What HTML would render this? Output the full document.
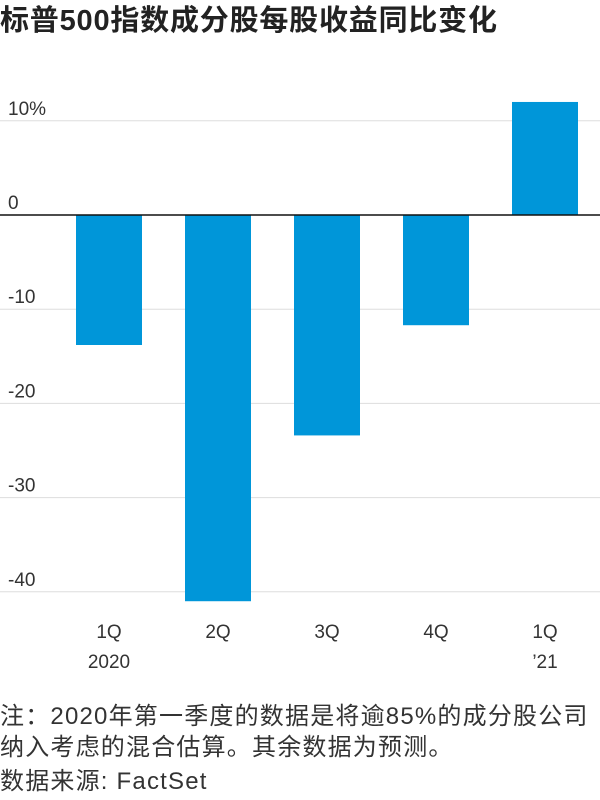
<!DOCTYPE html>
<html><head><meta charset="utf-8">
<style>
body{margin:0;width:600px;height:800px;background:#fff;overflow:hidden;font-family:"Liberation Sans","Noto Sans CJK SC",sans-serif;color:#333}
#title{position:absolute;left:0;top:3px;font-size:29px;font-weight:bold;color:#222;white-space:nowrap;line-height:36px;letter-spacing:0.8px}
.note{position:absolute;left:0;font-size:24px;color:#333;white-space:nowrap;line-height:30px;letter-spacing:1.2px}
svg{position:absolute;left:0;top:0}
</style></head><body>
<div id="title">标普500指数成分股每股收益同比变化</div>
<svg id="chart" width="600" height="700"></svg>
<div class="note" style="top:702px">注：2020年第一季度的数据是将逾85%的成分股公司</div>
<div class="note" style="top:733px">纳入考虑的混合估算。其余数据为预测。</div>
<div class="note" style="top:767px">数据来源: FactSet</div>
<script>
const categories=["1Q","2Q","3Q","4Q","1Q"];
const subLabels=["2020","","","","’21"];
const values=[-13.8,-41,-23.4,-11.7,12];
const ticks=[10,0,-10,-20,-30,-40];
const tickLabels=["10%","0","-10","-20","-30","-40"];
const svg=document.getElementById('chart');
const NS="http://www.w3.org/2000/svg";
const y=v=>215-v*9.42;
const x=i=>109+i*109;
const bw=66;
function mk(t,a){const e=document.createElementNS(NS,t);for(const k in a)e.setAttribute(k,a[k]);svg.appendChild(e);return e;}
ticks.forEach((t,i)=>{
  if(t!==0){const l=mk('line',{x1:0,x2:600,y1:y(t),y2:y(t),stroke:'#ddd','stroke-width':1});
  
  }
  const tx=mk('text',{x:8,y:y(t)-6,'font-size':19,fill:'#333','font-family':'Liberation Sans, sans-serif'});
  tx.textContent=tickLabels[i];
  
  
});
values.forEach((v,i)=>{
  const r=mk('rect',{x:x(i)-bw/2,y:Math.min(y(v),y(0)),width:bw,height:Math.abs(y(v)-y(0)),fill:'#0096d9'});
  
  
  const t=mk('text',{x:x(i),y:638,'text-anchor':'middle','font-size':19,fill:'#333'});
  t.textContent=categories[i];
  
  
  if(subLabels[i]){const s=mk('text',{x:x(i),y:668,'text-anchor':'middle','font-size':19,fill:'#333'});
  s.textContent=subLabels[i];
  
  }
});
const z=mk('line',{x1:0,x2:600,y1:y(0),y2:y(0),stroke:'#111','stroke-width':1.5});


</script>
</body></html>
